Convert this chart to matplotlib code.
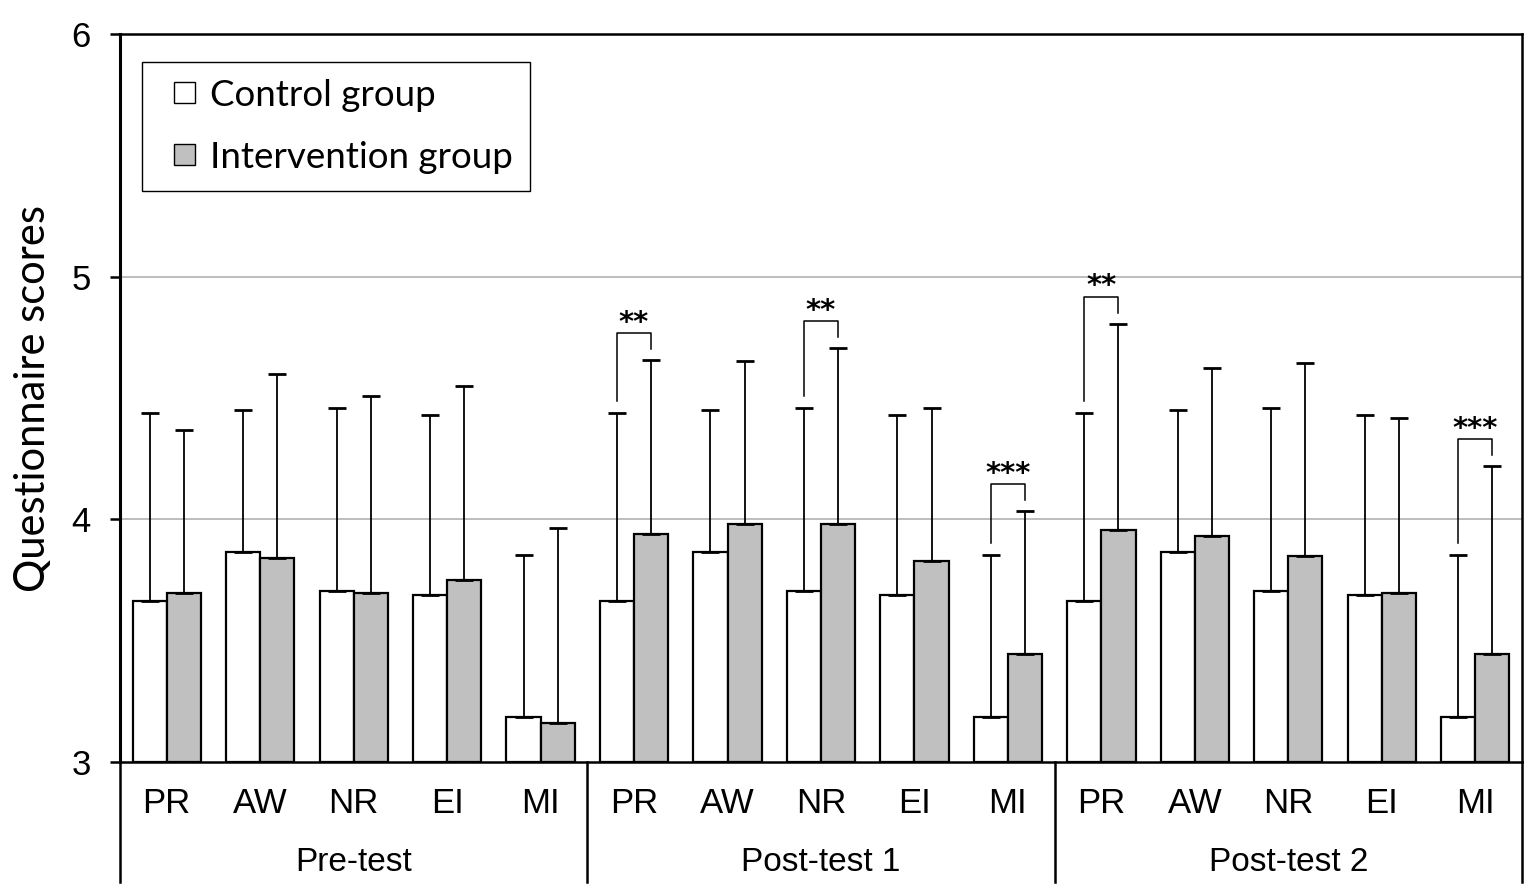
import numpy as np
import matplotlib
matplotlib.use("Agg")
import matplotlib.pyplot as plt
from matplotlib.patches import Patch, Rectangle
from matplotlib.legend_handler import HandlerPatch
import matplotlib.transforms as mtransforms

# data
phases = ["Pre-test", "Post-test 1", "Post-test 2"]
categories = ["PR", "AW", "NR", "EI", "MI"]

control_mean = [3.665, 3.864, 3.703, 3.687, 3.184]
control_sd = [0.773, 0.585, 0.756, 0.745, 0.668]

interv_mean_pre = [3.697, 3.841, 3.697, 3.750, 3.162]
interv_sd_pre = [0.670, 0.758, 0.813, 0.798, 0.802]
interv_mean_post1 = [3.940, 3.979, 3.979, 3.830, 3.444]
interv_sd_post1 = [0.718, 0.673, 0.728, 0.630, 0.591]
interv_mean_post2 = [3.958, 3.930, 3.847, 3.698, 3.444]
interv_sd_post2 = [0.849, 0.694, 0.799, 0.718, 0.776]

# (phase index, category, stars)
signif = [(1, "PR", "**"), (1, "NR", "**"), (1, "MI", "***"),
          (2, "PR", "**"), (2, "MI", "***")]

SANS = "Liberation Sans"
CAL = "Lato"

ctrl_m = np.array(control_mean * 3)
ctrl_s = np.array(control_sd * 3)
int_m = np.array(interv_mean_pre + interv_mean_post1 + interv_mean_post2)
int_s = np.array(interv_sd_pre + interv_sd_post1 + interv_sd_post2)
n = len(ctrl_m)
x = np.arange(n)
w = 0.365

fig = plt.figure(figsize=(15.35, 8.92), dpi=100)
ax = fig.add_axes([120 / 1535, 130 / 892, 1402 / 1535, 728 / 892])

for yy in (4, 5):
    ax.axhline(yy, color="#b8b8b8", lw=1.3, zorder=0)

err_kw = dict(ecolor="black", elinewidth=1.3, capsize=6.5, capthick=2.0)
ax.bar(x - w / 2, ctrl_m - 3, w, bottom=3, color="white", edgecolor="black",
       linewidth=1.6, yerr=[np.zeros(n), ctrl_s], error_kw=err_kw, zorder=2,
       label="Control group")
ax.bar(x + w / 2, int_m - 3, w, bottom=3, color="#c0c0c0", edgecolor="black",
       linewidth=1.6, yerr=[np.zeros(n), int_s], error_kw=err_kw, zorder=2,
       label="Intervention group")

# significance brackets
for ph, cat, stars in signif:
    i = ph * 5 + categories.index(cat)
    c_top = ctrl_m[i] + ctrl_s[i]
    i_top = int_m[i] + int_s[i]
    top = i_top + 0.11
    ax.plot([x[i] - w / 2, x[i] - w / 2, x[i] + w / 2, x[i] + w / 2],
            [c_top + 0.05, top, top, i_top + 0.045],
            color="black", lw=1.1, zorder=3)
    ax.text(x[i], top + 0.01, stars, ha="center", va="baseline",
            fontsize=21, fontweight="bold", family="DejaVu Sans")

ax.set_xlim(-0.5, n - 0.5)
ax.set_ylim(3, 6)
ax.set_yticks([3, 4, 5, 6])
ax.set_yticklabels(["3", "4", "5", "6"], family=SANS, fontsize=25)
ax.tick_params(axis="y", length=7, width=1.8, pad=14, direction="out")
ax.set_xticks(x)
ax.set_xticklabels(categories * 3, family=SANS, fontsize=25)
ax.tick_params(axis="x", length=0, pad=18)
for sp in ax.spines.values():
    sp.set_linewidth(1.8)
ax.spines["left"].set_linewidth(2.2)

ax.set_ylabel("Questionnaire scores", family=CAL, fontsize=30, labelpad=14)

# group separators and phase labels below the axis
trans = mtransforms.blended_transform_factory(ax.transData, ax.transAxes)
for xs in [-0.5, 4.5, 9.5, 14.5]:
    ax.plot([xs, xs], [0, -0.165], color="black", lw=1.8, transform=trans,
            clip_on=False)
for k, ph in enumerate(phases):
    ax.text(k * 5 + 2, -0.1375, ph, transform=trans, ha="center", va="center",
            family=SANS, fontsize=24)


def small_square(legend, orig_handle, xdescent, ydescent, width, height, fontsize):
    s = height
    return Rectangle((width - s - xdescent, -ydescent), s, s)


handles = [Patch(facecolor="white", edgecolor="black", lw=1.0),
           Patch(facecolor="#c0c0c0", edgecolor="black", lw=1.0)]
leg = ax.legend(handles, ["Control group", "Intervention group"],
                loc="upper left", bbox_to_anchor=(0.0157, 0.9615),
                borderaxespad=0, fancybox=False, framealpha=1,
                edgecolor="black", prop={"family": CAL, "size": 26.5},
                handlelength=1.0, handleheight=0.5, handletextpad=0.4,
                labelspacing=0.8, borderpad=0.45,
                handler_map={Patch: HandlerPatch(patch_func=small_square)})
leg.get_frame().set_linewidth(1.0)

fig.savefig("out.png", dpi=100)
